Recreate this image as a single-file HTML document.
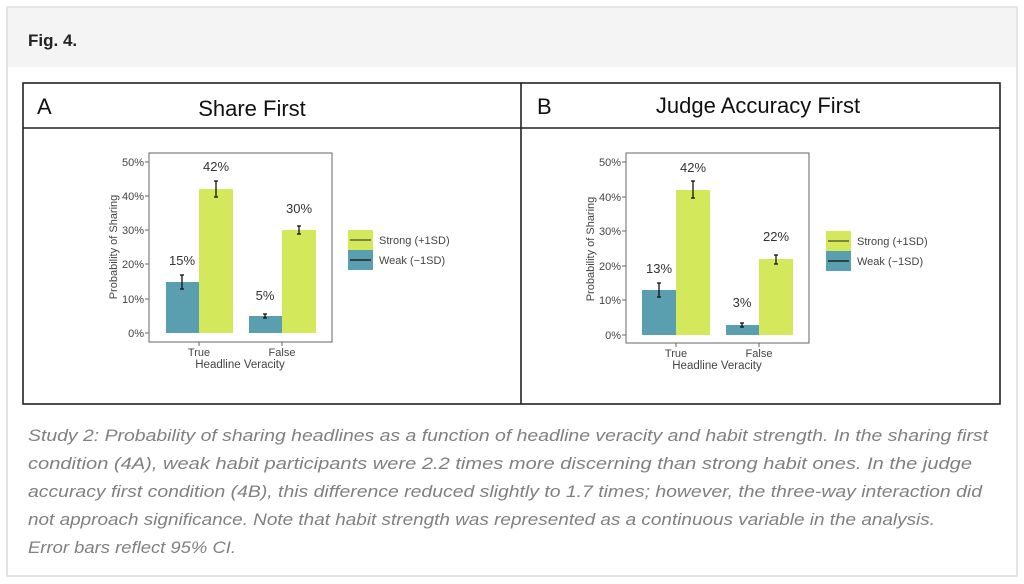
<!DOCTYPE html>
<html><head><meta charset="utf-8"><style>
html,body{margin:0;padding:0;background:#fff;}
svg{display:block;font-family:"Liberation Sans",Arial,sans-serif;}
</style></head><body>
<svg width="1024" height="584" viewBox="0 0 1024 584" xmlns="http://www.w3.org/2000/svg">
<rect x="7" y="7" width="1010" height="569" fill="#fff" stroke="#dcdcdc" stroke-width="1.5"/>
<rect x="8" y="8" width="1008" height="59" fill="#f4f4f4"/>
<text x="28" y="46" font-size="17" font-weight="bold" fill="#222">Fig. 4.</text>

<rect x="23" y="83" width="977" height="321" fill="#fff" stroke="#222" stroke-width="1.6"/>
<line x1="521" y1="83" x2="521" y2="404" stroke="#222" stroke-width="1.6"/>
<line x1="23" y1="128" x2="1000" y2="128" stroke="#222" stroke-width="1.6"/>
<text x="37" y="114" font-size="22" fill="#111">A</text>
<text x="252" y="116" font-size="22" fill="#111" text-anchor="middle">Share First</text>
<text x="537" y="114" font-size="22" fill="#111">B</text>
<text x="758" y="113" font-size="22" fill="#111" text-anchor="middle">Judge Accuracy First</text>

<g font-size="11" fill="#444">
<rect x="149" y="153" width="183" height="189" fill="#fff" stroke="#666" stroke-width="1"/>
<g stroke="#666"><line x1="145" y1="333" x2="149" y2="333"/><line x1="145" y1="299" x2="149" y2="299"/><line x1="145" y1="264" x2="149" y2="264"/><line x1="145" y1="230" x2="149" y2="230"/><line x1="145" y1="196" x2="149" y2="196"/><line x1="145" y1="162" x2="149" y2="162"/>
<line x1="199" y1="342" x2="199" y2="346"/><line x1="282" y1="342" x2="282" y2="346"/></g>
<g text-anchor="end"><text x="144" y="337">0%</text><text x="144" y="303">10%</text><text x="144" y="268">20%</text><text x="144" y="234">30%</text><text x="144" y="200">40%</text><text x="144" y="166">50%</text></g>
<text x="199" y="356" text-anchor="middle">True</text><text x="282" y="356" text-anchor="middle">False</text>
<text x="240" y="368" text-anchor="middle" font-size="11.5">Headline Veracity</text>
<text transform="translate(117,247) rotate(-90)" text-anchor="middle" font-size="11">Probability of Sharing</text>
<rect x="166" y="282" width="33" height="51" fill="#5a9fb0"/>
<rect x="199" y="189" width="34" height="144" fill="#d4e85c"/>
<rect x="249" y="316" width="33" height="17" fill="#5a9fb0"/>
<rect x="282" y="230" width="34" height="103" fill="#d4e85c"/>
<g stroke="#111" stroke-width="1.3">
<line x1="182" y1="275" x2="182" y2="289"/><line x1="180" y1="275" x2="184" y2="275"/><line x1="180" y1="289" x2="184" y2="289"/>
<line x1="216" y1="181" x2="216" y2="197"/><line x1="214" y1="181" x2="218" y2="181"/><line x1="214" y1="197" x2="218" y2="197"/>
<line x1="265" y1="314" x2="265" y2="318"/><line x1="263" y1="314" x2="267" y2="314"/><line x1="263" y1="318" x2="267" y2="318"/>
<line x1="299" y1="226" x2="299" y2="234"/><line x1="297" y1="226" x2="301" y2="226"/><line x1="297" y1="234" x2="301" y2="234"/>
</g>
<g font-size="13" fill="#333" text-anchor="middle"><text x="182" y="265">15%</text><text x="216" y="171">42%</text><text x="265" y="300">5%</text><text x="299" y="213">30%</text></g>
<rect x="348" y="230" width="25" height="20" fill="#d4e85c"/><rect x="348" y="250" width="25" height="20" fill="#5a9fb0"/>
<line x1="350" y1="240" x2="371" y2="240" stroke="#222"/><line x1="350" y1="260" x2="371" y2="260" stroke="#222" stroke-width="1.5"/>
<text x="379" y="244">Strong (+1SD)</text><text x="379" y="264">Weak (−1SD)</text>
</g>

<g font-size="11" fill="#444">
<rect x="626" y="153" width="183" height="190" fill="#fff" stroke="#666" stroke-width="1"/>
<g stroke="#666"><line x1="622" y1="335" x2="626" y2="335"/><line x1="622" y1="300" x2="626" y2="300"/><line x1="622" y1="266" x2="626" y2="266"/><line x1="622" y1="231" x2="626" y2="231"/><line x1="622" y1="197" x2="626" y2="197"/><line x1="622" y1="162" x2="626" y2="162"/>
<line x1="676" y1="343" x2="676" y2="347"/><line x1="759" y1="343" x2="759" y2="347"/></g>
<g text-anchor="end"><text x="621" y="339">0%</text><text x="621" y="304">10%</text><text x="621" y="270">20%</text><text x="621" y="235">30%</text><text x="621" y="201">40%</text><text x="621" y="166">50%</text></g>
<text x="676" y="357" text-anchor="middle">True</text><text x="759" y="357" text-anchor="middle">False</text>
<text x="717" y="369" text-anchor="middle" font-size="11.5">Headline Veracity</text>
<text transform="translate(594,249) rotate(-90)" text-anchor="middle" font-size="11">Probability of Sharing</text>
<rect x="642" y="290" width="34" height="45" fill="#5a9fb0"/>
<rect x="676" y="190" width="34" height="145" fill="#d4e85c"/>
<rect x="726" y="325" width="33" height="10" fill="#5a9fb0"/>
<rect x="759" y="259" width="34" height="76" fill="#d4e85c"/>
<g stroke="#111" stroke-width="1.3">
<line x1="659" y1="283" x2="659" y2="297"/><line x1="657" y1="283" x2="661" y2="283"/><line x1="657" y1="297" x2="661" y2="297"/>
<line x1="693" y1="181" x2="693" y2="198"/><line x1="691" y1="181" x2="695" y2="181"/><line x1="691" y1="198" x2="695" y2="198"/>
<line x1="742" y1="323" x2="742" y2="327"/><line x1="740" y1="323" x2="744" y2="323"/><line x1="740" y1="327" x2="744" y2="327"/>
<line x1="776" y1="255" x2="776" y2="264"/><line x1="774" y1="255" x2="778" y2="255"/><line x1="774" y1="264" x2="778" y2="264"/>
</g>
<g font-size="13" fill="#333" text-anchor="middle"><text x="659" y="273">13%</text><text x="693" y="172">42%</text><text x="742" y="307">3%</text><text x="776" y="241">22%</text></g>
<rect x="826" y="231" width="25" height="20" fill="#d4e85c"/><rect x="826" y="251" width="25" height="20" fill="#5a9fb0"/>
<line x1="828" y1="241" x2="849" y2="241" stroke="#222"/><line x1="828" y1="261" x2="849" y2="261" stroke="#222" stroke-width="1.5"/>
<text x="857" y="245">Strong (+1SD)</text><text x="857" y="265">Weak (−1SD)</text>
</g>

<g font-size="16.5" font-style="italic" fill="#808080">
<text x="28" y="441" textLength="960" lengthAdjust="spacingAndGlyphs">Study 2: Probability of sharing headlines as a function of headline veracity and habit strength. In the sharing first</text>
<text x="28" y="469" textLength="944" lengthAdjust="spacingAndGlyphs">condition (4A), weak habit participants were 2.2 times more discerning than strong habit ones. In the judge</text>
<text x="28" y="497" textLength="954" lengthAdjust="spacingAndGlyphs">accuracy first condition (4B), this difference reduced slightly to 1.7 times; however, the three-way interaction did</text>
<text x="28" y="525" textLength="907" lengthAdjust="spacingAndGlyphs">not approach significance. Note that habit strength was represented as a continuous variable in the analysis.</text>
<text x="28" y="553" textLength="208" lengthAdjust="spacingAndGlyphs">Error bars reflect 95% CI.</text>
</g>
</svg>
</body></html>
